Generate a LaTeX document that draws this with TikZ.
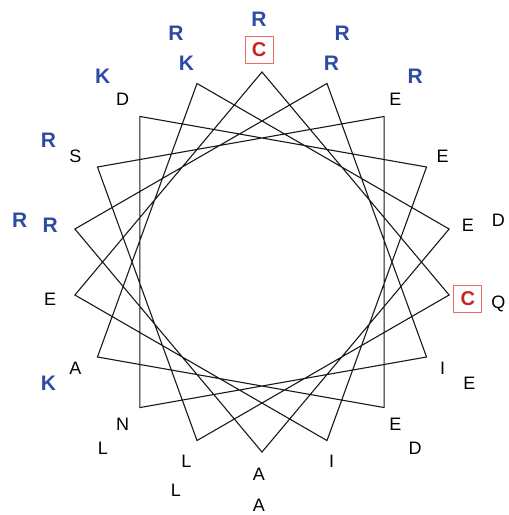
\documentclass[tikz,border=0pt]{standalone}
\usepackage{fontspec}
\setmainfont{Liberation Sans}
\usepackage{tikz}
\usetikzlibrary{calc}
\definecolor{PosBlue}{RGB}{45,75,165}
\definecolor{CysRed}{RGB}{200,35,35}
\definecolor{CysBox}{RGB}{232,110,105}
\tikzset{
  plainres/.style={font=\fontsize{18}{18}\selectfont,inner sep=0pt,text=black},
  basicres/.style={font=\fontsize{21}{21}\selectfont\bfseries,inner sep=0pt,text=PosBlue},
  cysres/.style={font=\fontsize{20}{20}\selectfont\bfseries,text=CysRed,draw=CysBox,
              line width=0.8pt,minimum width=28pt,minimum height=27pt,inner sep=0pt},
  wheel/.style={line width=1.1pt,black!90,line join=miter},
}

\begin{document}
\begin{tikzpicture}[x=1pt,y=1pt]
  \useasboundingbox (0,0) rectangle (509,-515);
  \coordinate (ctr) at (262,-262);
  \coordinate (lc) at (259,-262);

  % wheel vertices, 20 deg apart
  \foreach \k in {0,...,17}
    \coordinate (v\k) at ($(ctr)+({90-20*\k}:190)$);

  % 100 deg per residue -> star 18/5
  \draw[wheel] (v0)
    \foreach \k [evaluate=\k as \n using {int(mod(5*\k,18))}] in {1,...,17} { -- (v\n) }
    -- cycle;

  % first turn
  \foreach \a/\t/\s [count=\i] in {90/C/cysres,70/R/basicres,50/E/plainres,
      30/E/plainres,10/E/plainres,-10/C/cysres,-30/I/plainres,-50/E/plainres,
      -70/I/plainres,-90/A/plainres,-110/L/plainres,-130/N/plainres,-150/A/plainres,
      -170/E/plainres,170/R/basicres,150/S/plainres,130/D/plainres,110/K/basicres}
    \node[\s] (in\i) at ($(lc)+(\a:212)$) {\t};

  % second turn
  \foreach \a/\t/\s [count=\i] in {90/R/basicres,70/R/basicres,50/R/basicres,
      10/D/plainres,-10/Q/plainres,-30/E/plainres,-50/D/plainres,-90/A/plainres,
      -110/L/plainres,-130/L/plainres,-150/K/basicres,170/R/basicres,
      150/R/basicres,130/K/basicres,110/R/basicres}
    \node[\s] (out\i) at ($(lc)+(\a:243)$) {\t};
\end{tikzpicture}
\end{document}
